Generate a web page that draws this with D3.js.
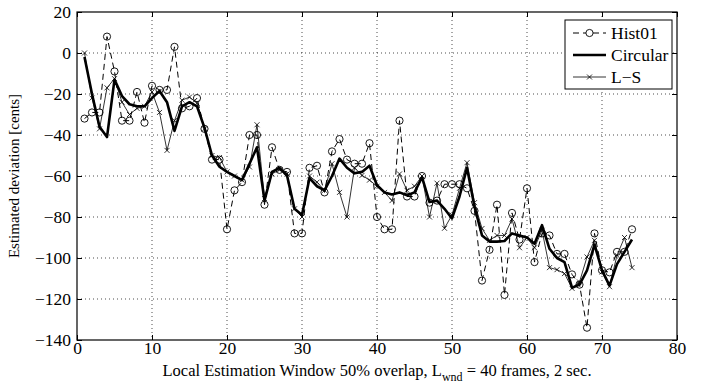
<!DOCTYPE html>
<html><head><meta charset="utf-8">
<script src="https://cdn.jsdelivr.net/npm/d3@7"></script>
<style>body{margin:0;background:#fff}svg text{font-family:"Liberation Serif","Times New Roman",serif !important;fill:#000}</style></head>
<body><svg id="c" width="704" height="385"></svg>
<script>
const frames = d3.range(1, 75);
const hist01 = [-32,-29,-29,8,-9,-33,-33,-19,-34,-16,-18,-18,3,-27,-26,-22,-37,-52,-52,-86,
  -67,-63,-40,-40,-74,-46,-57,-58,-88,-88,-56,-55,-68,-48,-42,-52,-54,-54,-44,-80,
  -86,-86,-33,-70,-70,-60,-73,-72,-64,-64,-64,-66,-77,-111,-96,-74,-118,-78,-91,-66,
  -102,-88,-89,-98,-98,-108,-113,-134,-88,-106,-107,-97,-97,-86];
const circular = [-2,-20,-36,-41,-13,-21,-25,-26,-26,-22,-18.5,-24,-38,-26,-24,-26,-36.5,-50,-55.5,-58,
  -60,-62,-54,-46,-72,-58,-56,-59.7,-76,-79,-61,-65,-67,-60,-51.5,-56,-58.7,-58,-55,-64.5,
  -68,-69,-68,-69.4,-68,-60.6,-72.7,-72,-76,-80.7,-70,-56,-75,-89,-92,-92,-91.7,-88,-89,-90,
  -93,-84,-95.5,-100,-102,-114.5,-113,-106,-93.5,-106,-113.5,-103,-97,-91];
const lsValues = [0,-22,-37,-17,-12.5,-24,-30,-27,-26,-19,-29,-47.5,-33,-23,-21.5,-24.5,-37,-50,-51,-58,
  -60,-62,-55.6,-35,-71,-59,-57,-59,-76,-80,-60,-63,-67,-54,-68,-80,-56,-59.7,-62,-65,
  -68,-72,-59,-67,-65,-60,-80,-63.5,-85.5,-79,-66,-53.5,-73,-85.6,-91.4,-89,-89,-81,-95,-90,
  -95,-86.5,-104.7,-105.7,-107.6,-114.8,-111.7,-99.5,-91.4,-106.8,-114,-98.7,-90,-104.7];
const xTicks = [0,10,20,30,40,50,60,70,80];
const yTicks = [20,0,-20,-40,-60,-80,-100,-120,-140];
const seriesNames = ["Hist01","Circular","L\u2212S"];

const svg = d3.select("#c");
const x = d3.scaleLinear().domain([0,80]).range([77,677]);
const y = d3.scaleLinear().domain([-140,20]).range([340,12]);
const X0 = x(0), X1 = x(80), Y0 = y(-140), Y1 = y(20);
const SERIF = "'Liberation Serif','Times New Roman',serif";

// grid
const g = svg.append("g");
g.selectAll(".gx").data(xTicks.slice(1,-1)).join("line")
  .attr("x1",d=>x(d)).attr("x2",d=>x(d)).attr("y1",Y1).attr("y2",Y0)
  .attr("stroke","#000").attr("stroke-width",0.7).attr("stroke-dasharray","1,3");
g.selectAll(".gy").data(yTicks.slice(1,-1)).join("line")
  .attr("y1",d=>y(d)).attr("y2",d=>y(d)).attr("x1",X0).attr("x2",X1)
  .attr("stroke","#000").attr("stroke-width",0.7).attr("stroke-dasharray","1,3");

// axes with inner ticks (box style)
const fmt = d => d < 0 ? "\u2212" + Math.abs(d) : String(d);
const axB = svg.append("g").attr("transform",`translate(0,${Y0})`)
  .call(d3.axisBottom(x).tickValues(xTicks).tickSizeInner(-5).tickSizeOuter(0).tickPadding(2).tickFormat(fmt));
const axT = svg.append("g").attr("transform",`translate(0,${Y1})`)
  .call(d3.axisTop(x).tickValues(xTicks).tickSizeInner(-5).tickSizeOuter(0).tickFormat(""));
const axL = svg.append("g").attr("transform",`translate(${X0},0)`)
  .call(d3.axisLeft(y).tickValues(yTicks).tickSizeInner(-5).tickSizeOuter(0).tickPadding(6).tickFormat(fmt));
const axR = svg.append("g").attr("transform",`translate(${X1},0)`)
  .call(d3.axisRight(y).tickValues(yTicks).tickSizeInner(-5).tickSizeOuter(0).tickFormat(""));
[axB,axT,axL,axR].forEach(a=>{
  a.attr("font-family",SERIF).attr("font-size",17.5);
  a.selectAll("path").remove();
  a.selectAll("line").attr("stroke","#000").attr("stroke-width",1);
  a.selectAll("text").attr("font-family",SERIF).style("font-family",SERIF).style("font-size","17.5px").attr("fill","#000");
});
axB.selectAll("text").attr("y",1).attr("dy","0.72em");
svg.append("rect").attr("x",X0).attr("y",Y1).attr("width",X1-X0).attr("height",Y0-Y1)
  .attr("fill","none").attr("stroke","#000").attr("stroke-width",1.2);

// series
const line = d3.line().x((d,i)=>x(frames[i])).y(d=>y(d));
const plot = svg.append("g");
plot.append("path").attr("d",line(hist01)).attr("fill","none").attr("stroke","#000")
  .attr("stroke-width",1).attr("stroke-dasharray","6,4");
plot.append("path").attr("d",line(lsValues)).attr("fill","none").attr("stroke","#000").attr("stroke-width",0.8);
plot.append("path").attr("d",line(circular)).attr("fill","none").attr("stroke","#000").attr("stroke-width",2.6)
  .attr("stroke-linejoin","round");
plot.selectAll(".hc").data(hist01).join("circle")
  .attr("cx",(d,i)=>x(frames[i])).attr("cy",d=>y(d)).attr("r",3.6)
  .attr("fill","none").attr("stroke","#000").attr("stroke-width",0.9);
const xm = (cx,cy,s)=>`M${cx-s},${cy-s}L${cx+s},${cy+s}M${cx-s},${cy+s}L${cx+s},${cy-s}`;
plot.selectAll(".lx").data(lsValues).join("path")
  .attr("d",(d,i)=>xm(x(frames[i]),y(d),2.5)).attr("stroke","#000").attr("stroke-width",0.8);

// legend
const lg = svg.append("g");
lg.append("rect").attr("x",565).attr("y",20).attr("width",107).attr("height",69)
  .attr("fill","#fff").attr("stroke","#000").attr("stroke-width",1);
const ly = [33,55,77];
lg.append("line").attr("x1",573).attr("x2",606).attr("y1",ly[0]).attr("y2",ly[0])
  .attr("stroke","#000").attr("stroke-width",1).attr("stroke-dasharray","6,4");
lg.append("circle").attr("cx",589.5).attr("cy",ly[0]).attr("r",3.6).attr("fill","#fff").attr("stroke","#000").attr("stroke-width",0.9);
lg.append("line").attr("x1",573).attr("x2",606).attr("y1",ly[1]).attr("y2",ly[1])
  .attr("stroke","#000").attr("stroke-width",2.6);
lg.append("line").attr("x1",573).attr("x2",606).attr("y1",ly[2]).attr("y2",ly[2])
  .attr("stroke","#000").attr("stroke-width",0.8);
lg.append("path").attr("d",xm(589.5,ly[2],2.5)).attr("stroke","#000").attr("stroke-width",0.8);
lg.selectAll(".lt").data(seriesNames).join("text")
  .attr("x",611).attr("y",(d,i)=>ly[i]+6).style("font-size","17.5px").text(d=>d);

// axis labels
svg.append("text").attr("transform",`translate(19,${(Y0+Y1)/2}) rotate(-90)`)
  .attr("text-anchor","middle").style("font-size","15px").text("Estimated deviation [cents]");
const xl = svg.append("text").attr("x",(X0+X1)/2).attr("y",376).attr("text-anchor","middle").style("font-size","16.5px");
xl.append("tspan").text("Local Estimation Window 50% overlap, L");
xl.append("tspan").attr("dy",5).style("font-size","12px").text("wnd");
xl.append("tspan").attr("dy",-5).text(" = 40 frames, 2 sec.");
</script></body></html>
